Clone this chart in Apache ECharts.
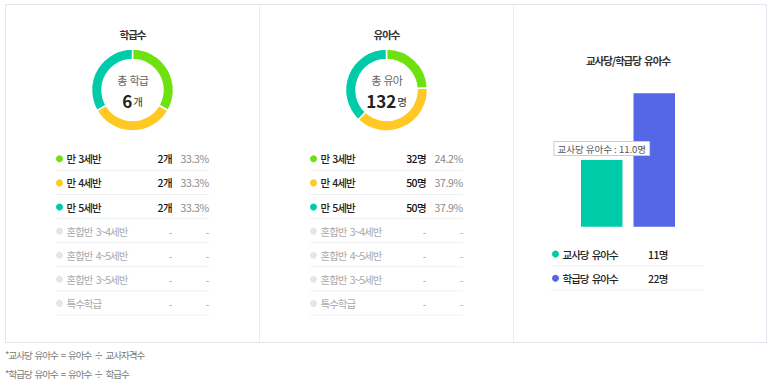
<!DOCTYPE html>
<html><head><meta charset="utf-8">
<script src="https://cdn.jsdelivr.net/npm/echarts@6/dist/echarts.min.js"></script>
<style>html,body{margin:0;padding:0;background:#fff}#c{width:773px;height:391px}</style>
</head><body><div id="c"></div>
<script>
// ---- data ----
const classCategories = ['만 3세반','만 4세반','만 5세반','혼합반 3~4세반','혼합반 4~5세반','혼합반 3~5세반','특수학급'];
const classCounts = [2, 2, 2, null, null, null, null];
const childCounts = [32, 50, 50, null, null, null, null];
const ratioCategories = ['교사당 유아수', '학급당 유아수'];
const ratioValues = [11, 22];
const panelTitles = ['학급수', '유아수', '교사당/학급당 유아수'];
const centerLabels = ['총 학급', '총 유아'];
const units = ['개', '명'];
const footnotes = ['*교사당 유아수 = 유아수 ÷ 교사자격수', '*학급당 유아수 = 유아수 ÷ 학급수'];

// ---- style ----
const FONT = '"Noto Sans CJK KR", "Noto Sans", sans-serif';
const catColors = ['#6de20e', '#ffc824', '#00cba8', '#e6e6e6', '#e6e6e6', '#e6e6e6', '#e6e6e6'];
const ratioColors = ['#00cba8', '#5566e6'];

const chart = echarts.init(document.getElementById('c'), null, {renderer: 'svg'});
const graphics = [];
const series = [];

// frame
graphics.push({type:'rect', shape:{x:5.5, y:4.5, width:761, height:338}, style:{fill:'none', stroke:'#e4e6ef', lineWidth:1}, silent:true});
[259.5, 513.5].forEach(x => graphics.push({type:'line', shape:{x1:x, y1:5, x2:x, y2:342}, style:{stroke:'#eeeeee', lineWidth:1}, silent:true}));

function txt(x, y, text, o) {
  graphics.push({type:'text', x:x, y:y, silent:true, style:Object.assign({text:text, fontSize:10.5, fontWeight:500, fontFamily:FONT, fill:'#333', textAlign:'left', textVerticalAlign:'middle', lineHeight:13}, o || {})});
}

// donut panels
[classCounts, childCounts].forEach((vals, p) => {
  const off = p * 254;
  const cx = 132.5 + off, cy = 90;
  const total = vals.reduce((s, v) => s + (v || 0), 0);
  txt(cx, 34.5, panelTitles[p], {textAlign:'center', fontWeight:'bold', fontSize:10.5, fill:'#333'});
  series.push({
    type:'pie', silent:true, center:[cx, cy], radius:[30.5, 41], startAngle:90,
    label:{show:false}, labelLine:{show:false},
    itemStyle:{borderColor:'#fff', borderWidth:1.5},
    data: classCategories.map((c, i) => ({name:c, value:vals[i], itemStyle:{color:catColors[i]}})).filter(d => d.value)
  });
  txt(cx, 79.5, centerLabels[p], {textAlign:'center', fontSize:11, fontWeight:'normal', fill:'#666', lineHeight:12});
  graphics.push({type:'text', x:cx, y:100, silent:true, style:{
    text:'{n|' + total + '}{u|' + units[p] + '}', textAlign:'center', textVerticalAlign:'middle',
    rich:{n:{fontSize:17, fontWeight:'bold', fontFamily:FONT, fill:'#222', lineHeight:17}, u:{fontSize:10.5, fontFamily:FONT, fill:'#333', padding:[3,0,0,1], lineHeight:14}}
  }});
  // table
  classCategories.forEach((c, i) => {
    const y = 158.8 + i * 24.1;
    const v = vals[i];
    const on = !!v;
    graphics.push({type:'circle', shape:{cx:59.5 + off, cy:y, r:3.5}, style:{fill:catColors[i]}, silent:true});
    txt(66.5 + off, y, c, {fill: on ? '#222' : '#aaa', fontWeight: on ? 500 : 'normal'});
    txt(172 + off, y, on ? v + units[p] : '-', {textAlign:'right', fill: on ? '#111' : '#aaa', fontWeight: on ? 500 : 'normal'});
    txt(209 + off, y, on ? (v / total * 100).toFixed(1) + '%' : '-', {textAlign:'right', fontWeight:'normal', fill: on ? '#888' : '#aaa'});
    graphics.push({type:'line', shape:{x1:56 + off, y1:y + 11.6, x2:209 + off, y2:y + 11.6}, style:{stroke:'#f0f0f0', lineWidth:1}, silent:true});
  });
});

// bar panel
txt(628, 60, panelTitles[2], {textAlign:'center', fontWeight:'bold', fontSize:10.5, fill:'#333'});
ratioCategories.forEach((c, i) => {
  const y = 254 + i * 24.3;
  graphics.push({type:'circle', shape:{cx:555.5, cy:y, r:3.5}, style:{fill:ratioColors[i]}, silent:true});
  txt(562.5, y, c, {fill:'#222'});
  txt(648, y, ratioValues[i] + '명', {fill:'#222'});
  graphics.push({type:'line', shape:{x1:551, y1:y + 11.7, x2:704, y2:y + 11.7}, style:{stroke:'#f0f0f0', lineWidth:1}, silent:true});
});

// footnotes
footnotes.forEach((f, i) => txt(5, 354.5 + i * 19, f, {fontSize:9.5, fontWeight:'normal', fill:'#777'}));

series.push({
  type:'bar', silent:true, barWidth:41.5,
  data: ratioValues.map((v, i) => ({
    value:v, itemStyle:{color:ratioColors[i]},
    label: i === 0 ? {show:true, position:'top', distance:5,
      formatter: p => ratioCategories[0] + ' : ' + p.value.toFixed(1) + '명',
      fontSize:9.5, fontFamily:FONT, color:'#555', backgroundColor:'#fff', borderColor:'#ccc', borderWidth:1, padding:[1,3,0,3], lineHeight:12} : {show:false}
  }))
});

chart.setOption({
  animation:false,
  grid:{left:575.5, top:93.3, width:105, height:133.4},
  xAxis:{type:'category', data:ratioCategories, show:false},
  yAxis:{type:'value', min:0, max:Math.max(...ratioValues), show:false},
  series: series,
  graphic: graphics
});

// tighter Korean letter spacing like the source page
document.querySelectorAll('#c svg text').forEach(t => {
  const s = t.textContent || '';
  if (s.indexOf(' : ') >= 0) return;           // bar label keeps its box fit
  if (/^\d+$/.test(s) || s === '개' || s === '명') return; // rich center number pieces
  let ls = -1;
  if (/%$/.test(s) || s === '-') ls = -0.3;
  else if (/^\d+[개명]$/.test(s)) ls = -0.6;
  t.style.letterSpacing = ls + 'px';
  t.style.wordSpacing = '1.8px';
});
</script></body></html>
